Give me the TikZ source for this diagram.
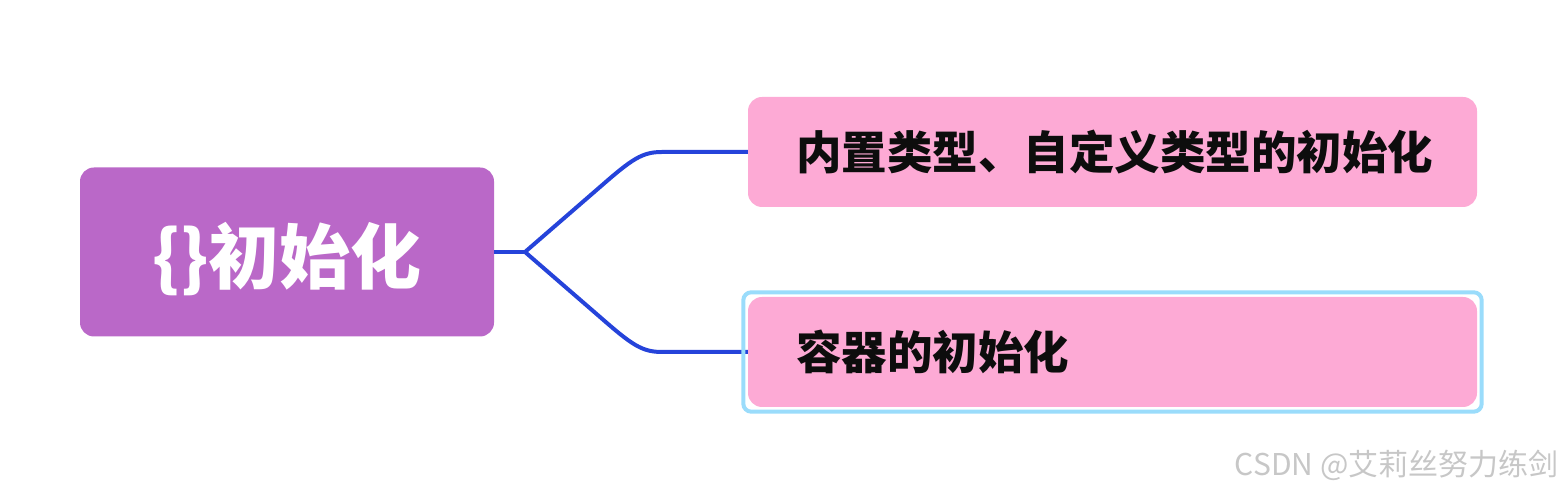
\documentclass[tikz,border=0pt]{standalone}
\usepackage{fontspec}
\setmainfont{Noto Sans CJK SC}
\usetikzlibrary{positioning,calc}
\definecolor{RootPurple}{HTML}{BA68C8}
\definecolor{LeafPink}{HTML}{FDAAD5}
\definecolor{LinkBlue}{HTML}{2543DA}
\definecolor{SelectBlue}{HTML}{9ADCFB}

\begin{document}
\begin{tikzpicture}[x=1pt,y=1pt,
    rootbox/.style={rectangle,rounded corners=14pt,fill=RootPurple,text=white,
      minimum width=414pt,minimum height=169pt,inner sep=0pt,
      text height=64pt,text depth=0pt,
      font=\fontsize{71}{80}\selectfont\bfseries},
    leafbox/.style={rectangle,rounded corners=14pt,fill=LeafPink,text=black!95,
      text width=633pt,inner xsep=48pt,inner ysep=0pt,minimum height=110pt,align=left,
      font=\fontsize{45.5}{52}\selectfont\bfseries},
    link/.style={LinkBlue,line width=4pt,line join=round}]
  \useasboundingbox (0,0) rectangle (1566,494);
  \node[rootbox] (root) at (287,242) {\{\}初始化};
  \node[leafbox] (c1) at (1112.5,342) {内置类型、自定义类型的初始化};
  \node[leafbox] (c2) at (1112.5,142) {容器的初始化};
  \coordinate (junc) at (525,242);
  % branches
  \draw[link] (root.east) -- (junc);
  \draw[link] (junc) -- (600,307) .. controls (632,335) and (642,342) .. (662,342) -- (c1.west);
  \draw[link] (junc) -- (600,177) .. controls (632,149) and (642,142) .. (662,142) -- (c2.west);
  % selection frame
  \draw[SelectBlue,line width=4pt,rounded corners=8pt]
    ($(c2.south west)+(-4.5,-4.5)$) rectangle ($(c2.north east)+(4.5,4.5)$);
  \node[anchor=east,text=black!22,font=\fontsize{30}{33}\selectfont] (mark) at (1562,29)
    {CSDN @艾莉丝努力练剑};
\end{tikzpicture}
\end{document}
